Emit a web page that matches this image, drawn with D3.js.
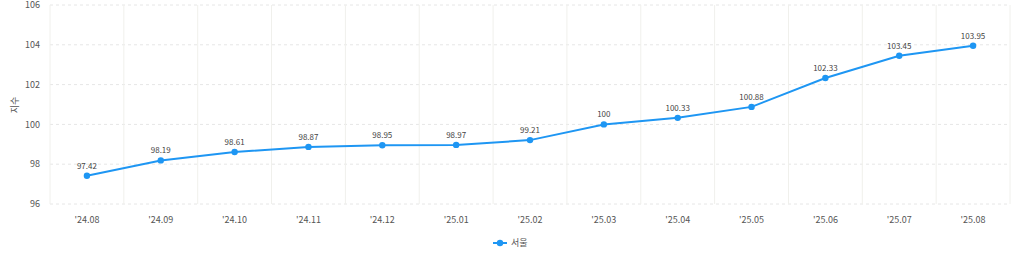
<!DOCTYPE html>
<html>
<head>
<meta charset="utf-8">
<script src="https://cdn.jsdelivr.net/npm/d3@7"></script>
<style>
  body { margin: 0; background: #fff; }
  svg { display: block; font-family: "Noto Sans CJK KR", "Noto Sans", sans-serif; }
</style>
</head>
<body>
<svg width="1024" height="263"></svg>
<script>
const months = ["'24.08", "'24.09", "'24.10", "'24.11", "'24.12", "'25.01", "'25.02",
                "'25.03", "'25.04", "'25.05", "'25.06", "'25.07", "'25.08"];
const seoul = [97.42, 98.19, 98.61, 98.87, 98.95, 98.97, 99.21, 100, 100.33, 100.88, 102.33, 103.45, 103.95];
const yTicks = [96, 98, 100, 102, 104, 106];
const seriesName = "서울";

const svg = d3.select('svg');
const color = '#1e96f3';
const plotLeft = 50, plotRight = 1010, plotTop = 5, plotBottom = 204;

const x = d3.scaleBand().domain(months).range([plotLeft, plotRight]);
const y = d3.scaleLinear().domain([96, 106]).range([plotBottom, plotTop]);

// grid
svg.append('g').selectAll('line')
  .data(yTicks).enter().append('line')
    .attr('x1', plotLeft).attr('x2', plotRight)
    .attr('y1', d => y(d)).attr('y2', d => y(d))
    .attr('stroke', '#e6e6e6').attr('stroke-dasharray', '3,3');

svg.append('g').selectAll('line')
  .data(months.concat(['end'])).enter().append('line')
    .attr('x1', (d, i) => plotLeft + i * x.bandwidth())
    .attr('x2', (d, i) => plotLeft + i * x.bandwidth())
    .attr('y1', plotTop).attr('y2', plotBottom)
    .attr('stroke', '#f0f0ec');

// y axis labels
svg.append('g').selectAll('text')
  .data(yTicks).enter().append('text')
    .attr('x', 40).attr('y', d => y(d)).attr('dy', '0.35em')
    .attr('text-anchor', 'end')
    .attr('font-size', 9).attr('fill', '#555')
    .text(d => d);

svg.append('text')
  .attr('transform', 'translate(18,105) rotate(-90)')
  .attr('text-anchor', 'middle')
  .attr('font-size', 9).attr('fill', '#555')
  .text('지수');

// x axis labels
svg.append('g').selectAll('text')
  .data(months).enter().append('text')
    .attr('x', d => x(d) + x.bandwidth() / 2).attr('y', 223)
    .attr('text-anchor', 'middle')
    .attr('font-size', 9).attr('fill', '#555')
    .text(d => d);

// line
const line = d3.line()
  .x((d, i) => x(months[i]) + x.bandwidth() / 2)
  .y(d => y(d));

svg.append('path')
  .datum(seoul)
  .attr('fill', 'none').attr('stroke', color).attr('stroke-width', 2)
  .attr('d', line);

svg.append('g').selectAll('circle')
  .data(seoul).enter().append('circle')
    .attr('cx', (d, i) => x(months[i]) + x.bandwidth() / 2)
    .attr('cy', d => y(d))
    .attr('r', 3.2).attr('fill', color);

svg.append('g').selectAll('text')
  .data(seoul).enter().append('text')
    .attr('x', (d, i) => x(months[i]) + x.bandwidth() / 2)
    .attr('y', d => y(d) - 7)
    .attr('text-anchor', 'middle')
    .attr('font-size', 8).attr('fill', '#444')
    .text(d => d);

// legend
const lg = svg.append('g').attr('transform', 'translate(500,243)');
lg.append('line').attr('x1', -7).attr('x2', 7).attr('stroke', color).attr('stroke-width', 2);
lg.append('circle').attr('r', 3.2).attr('fill', color);
lg.append('text').attr('x', 11).attr('dy', '0.35em')
  .attr('font-size', 9).attr('fill', '#555').text(seriesName);
</script>
</body>
</html>
